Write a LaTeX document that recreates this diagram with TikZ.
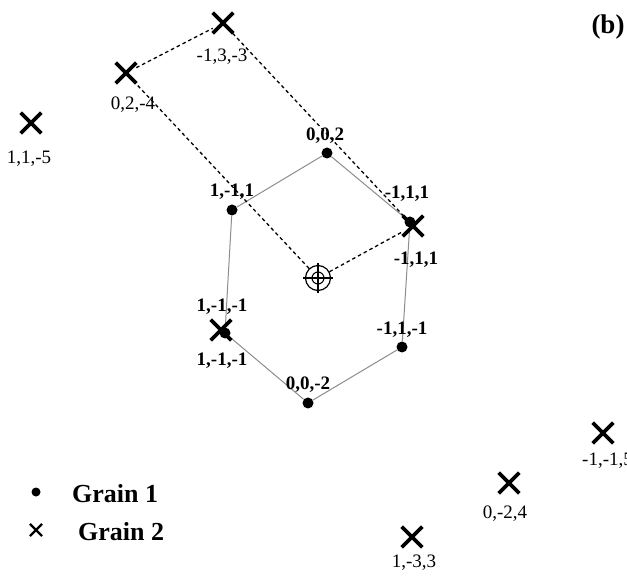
\documentclass[tikz,border=0pt]{standalone}
\usepackage{fontspec}
\setmainfont{Liberation Serif}
\usetikzlibrary{shapes.misc}
\begin{document}
\begin{tikzpicture}[x=1pt,y=-1pt,
  xmark/.style={cross out,draw=black,line width=3.6pt,minimum size=17pt,inner sep=0pt},
  gdot/.style={circle,fill=black,minimum size=11pt,inner sep=0pt},
  hexline/.style={draw=black!45,line width=1pt},
  dashline/.style={draw=black,line width=1.3pt,dash pattern=on 3.5pt off 3pt},
  lab/.style={font=\fontsize{19}{22}\selectfont,inner sep=0pt},
  blab/.style={font=\bfseries\fontsize{19}{22}\selectfont,inner sep=0pt},
  leg/.style={font=\bfseries\fontsize{26}{30}\selectfont,anchor=west,inner sep=0pt}]
\useasboundingbox (0,0) rectangle (627,577);
% Grain 1 dots
\node[gdot] (d002) at (327,153) {};
\node[gdot] (d1m11) at (232,210) {};
\node[gdot] (dm111) at (410,222) {};
\node[gdot] (d1m1m1) at (225,333) {};
\node[gdot] (dm11m1) at (402,347) {};
\node[gdot] (d00m2) at (308,403) {};
% hexagon
\draw[hexline] (d002) -- (dm111) -- (dm11m1) -- (d00m2) -- (d1m1m1) -- (d1m11) -- (d002);
% target
\node[circle,draw=black,line width=1.2pt,minimum size=25pt,inner sep=0pt] (tgt) at (318,278) {};
\draw[line width=1.1pt] (318,278) circle (6);
\draw[line width=1.1pt] (303,278) -- (333,278) (318,263) -- (318,293);
% Grain 2 crosses
\node[xmark] (cm13m3) at (223,23) {};
\node[xmark] (c02m4) at (126,73) {};
\node[xmark] (c11m5) at (31,123) {};
\node[xmark] (cm111) at (413,226) {};
\node[xmark] (c1m1m1) at (221,330) {};
\node[xmark] (cm1m15) at (603,433) {};
\node[xmark] (c0m24) at (509,483) {};
\node[xmark] (c1m33) at (412,537) {};
% dashed parallelogram
\draw[dashline] (tgt) -- (c02m4);
\draw[dashline] (c02m4) -- (cm13m3);
\draw[dashline] (cm13m3) -- (cm111);
\draw[dashline] (tgt) -- (cm111);
% labels
\node[lab] (l1) at (222,57) {-1,3,-3};
\node[lab] (l2) at (133,105) {0,2,-4};
\node[lab] (l3) at (29,159) {1,1,-5};
\node[blab] (l4) at (325,136) {0,0,2};
\node[blab] (l5) at (232,192) {1,-1,1};
\node[blab] (l6) at (407,194) {-1,1,1};
\node[blab] (l7) at (416,260) {-1,1,1};
\node[blab] (l8) at (222,307) {1,-1,-1};
\node[blab] (l9) at (222,361) {1,-1,-1};
\node[blab] (l10) at (402,330) {-1,1,-1};
\node[blab] (l11) at (308,385) {0,0,-2};
\node[lab,anchor=west] (l12) at (582,461) {-1,-1,5};
\node[lab] (l13) at (505,514) {0,-2,4};
\node[lab] (l14) at (414,563) {1,-3,3};
\node[font=\bfseries\fontsize{27}{30}\selectfont,inner sep=0pt] (b) at (608,27) {(b)};
% legend
\node[circle,fill=black,minimum size=9pt,inner sep=0pt] (ld) at (36,492) {};
\node[cross out,draw=black,line width=2.2pt,minimum size=10pt,inner sep=0pt] (lx) at (36,530) {};
\node[leg] (lt1) at (72,494) {Grain 1};
\node[leg] (lt2) at (78,532) {Grain 2};
\end{tikzpicture}
\end{document}
